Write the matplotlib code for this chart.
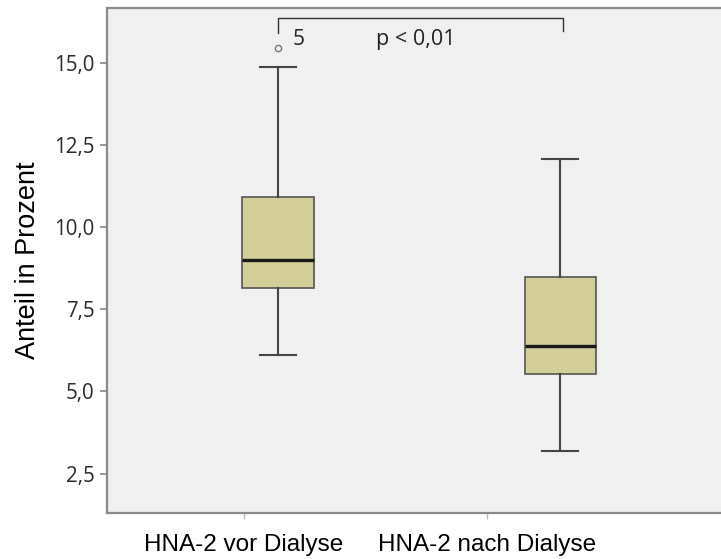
import matplotlib.pyplot as plt
from matplotlib.ticker import FuncFormatter

# --- data ---
groups = ['HNA-2 vor Dialyse', 'HNA-2 nach Dialyse']
q1 = [8.14, 5.52]
median = [8.99, 6.37]
q3 = [10.93, 8.48]
whis_lo = [6.12, 3.18]
whis_hi = [14.88, 12.06]
fliers = [[15.45], []]
flier_ids = ['5']
p_text = 'p < 0,01'

positions = [1, 2]
label_pos = [0.88, 1.74]   # labels sit left of the boxes in the original

stats = [dict(med=median[i], q1=q1[i], q3=q3[i], whislo=whis_lo[i],
              whishi=whis_hi[i], fliers=fliers[i]) for i in range(2)]

fig = plt.figure(figsize=(7.21, 5.59), dpi=100)
ax = fig.add_axes([107/721, (559-513)/559, (735-107)/721, (513-8)/559])
ax.set_facecolor('#f0f0f0')

edge = '#555555'
ax.bxp(stats, positions=positions, widths=0.252, patch_artist=True,
       boxprops=dict(facecolor='#d4ce98', edgecolor=edge, lw=1.2),
       medianprops=dict(color='#1a1a1a', lw=2.4),
       whiskerprops=dict(color='#444444', lw=1.5),
       capprops=dict(color='#444444', lw=1.5),
       capwidths=0.125,
       flierprops=dict(marker='o', markersize=4.5, markerfacecolor='none',
                       markeredgecolor='#777777', mew=1.0))

ax.set_xlim(0.394, 2.62)
ax.set_ylim(1.30, 16.67)
ax.set_yticks([2.5, 5.0, 7.5, 10.0, 12.5, 15.0])
ax.yaxis.set_major_formatter(FuncFormatter(lambda v, _: f'{v:.1f}'.replace('.', ',')))
ax.set_xticks(label_pos)
ax.set_xticklabels(groups, fontsize=17.5, family='Liberation Sans')
for t in ax.get_yticklabels():
    t.set_family('Open Sans')
    t.set_fontsize(14.8)
    t.set_color('#2a2a2a')
ax.tick_params(axis='y', length=5, width=1.2, color='#888888', pad=4)
ax.tick_params(axis='x', length=4, width=1, color='#bbbbbb', pad=11)
ax.set_ylabel('Anteil in Prozent', fontsize=19.5, family='Liberation Sans', labelpad=9)

for side in ['left', 'bottom', 'top', 'right']:
    ax.spines[side].set_color('#8a8a8a')
    ax.spines[side].set_linewidth(1.6)

# significance bracket
ax.plot([1.0, 1.0, 2.01, 2.01], [15.91, 16.37, 16.37, 15.97],
        color='#333333', lw=1.0)
ax.text(1.075, 15.72, flier_ids[0], ha='center', va='center',
        fontsize=15, family='Open Sans', color='#222222')
ax.text(1.49, 15.72, p_text, ha='center', va='center',
        fontsize=15.5, family='Open Sans', color='#222222')

plt.savefig('out.png', dpi=100)
